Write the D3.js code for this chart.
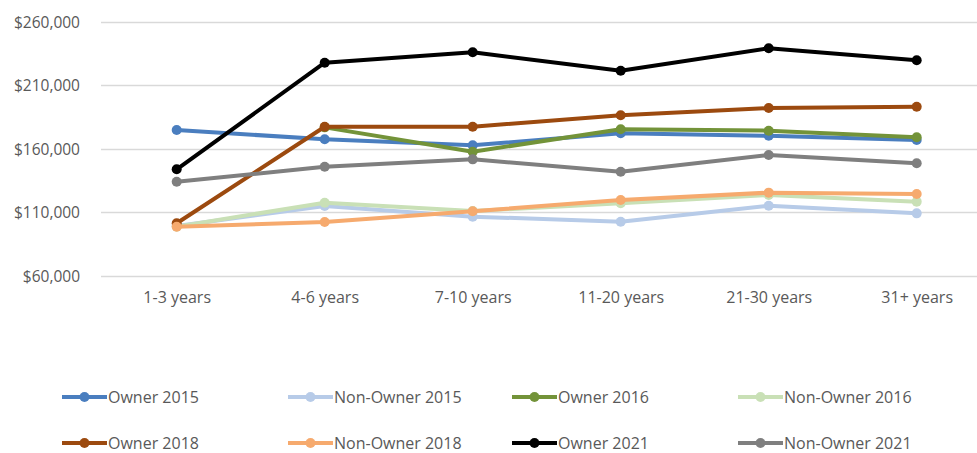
<!DOCTYPE html>
<html lang="en">
<head>
    <meta charset="UTF-8">
    <title>Salary by years of experience</title>
    <script src="https://cdn.jsdelivr.net/npm/d3@7"></script>
    <style>
        body { margin: 0; background: #fff; }
        svg { display: block; font-family: "Open Sans", sans-serif; }
    </style>
</head>
<body>
<div id="chart-space"></div>
<script>
    // categories and tick values
    var categories = ["1-3 years", "4-6 years", "7-10 years", "11-20 years", "21-30 years", "31+ years"];
    var yTicks = [60000, 110000, 160000, 210000, 260000];

    // series values (null = no point)
    var owner2015 = [174700, 167400, 162700, 172100, 170200, 166800];
    var nonOwner2015 = [99100, 114900, 106500, 102500, 115100, 109100];
    var owner2016 = [null, 176800, 157600, 175300, 174200, 169000];
    var nonOwner2016 = [98600, 117500, 110900, 117000, 123500, 118300];
    var owner2018 = [101300, 177300, 177300, 186300, 192000, 193100];
    var nonOwner2018 = [98600, 102300, 110700, 119600, 125400, 124300];
    var owner2021 = [143800, 227700, 235900, 221400, 239100, 229600];
    var nonOwner2021 = [134000, 145800, 151600, 141900, 155000, 148500];

    var seriesNames = ["Owner 2015", "Non-Owner 2015", "Owner 2016", "Non-Owner 2016",
                       "Owner 2018", "Non-Owner 2018", "Owner 2021", "Non-Owner 2021"];
    var seriesValues = [owner2015, nonOwner2015, owner2016, nonOwner2016,
                        owner2018, nonOwner2018, owner2021, nonOwner2021];
    var seriesColors = ["#4a7ebf", "#b7cbe8", "#739339", "#c9e0b6",
                        "#9c4a0f", "#f6aa6e", "#000000", "#7f7f7f"];

    var width = 977;
    var height = 453;

    var svg = d3.select("#chart-space")
                .append("svg")
                .attr("width", width)
                .attr("height", height);

    var xScale = d3.scalePoint()
                   .domain(categories)
                   .range([102.7, 990.7])
                   .padding(0.5);

    var yScale = d3.scaleLinear()
                   .domain([60000, 260000])
                   .range([275.7, 21.7]);

    // gridlines
    svg.append("g")
       .selectAll("line")
       .data(yTicks)
       .join("line")
       .attr("x1", 101)
       .attr("x2", width)
       .attr("y1", function(d){ return Math.round(yScale(d)) + 0.5; })
       .attr("y2", function(d){ return Math.round(yScale(d)) + 0.5; })
       .attr("stroke", "#d9d9d9")
       .attr("stroke-width", 1.5);

    // y axis labels
    var yAxis = d3.axisLeft(yScale)
                  .tickValues(yTicks)
                  .tickSize(0)
                  .tickPadding(0)
                  .tickFormat(function(d){ return "$" + d3.format(",")(d); });

    svg.append("g")
       .attr("transform", "translate(80,0)")
       .call(yAxis)
       .call(function(g){ g.select(".domain").remove(); })
       .selectAll("text")
       .attr("fill", "#595959")
       .attr("font-family", "Open Sans, sans-serif")
       .attr("font-size", 15.5)
       .attr("dy", "0.35em");

    // x axis labels
    var xAxis = d3.axisBottom(xScale).tickSize(0).tickPadding(0);

    svg.append("g")
       .attr("transform", "translate(0,297)")
       .call(xAxis)
       .call(function(g){ g.select(".domain").remove(); })
       .selectAll("text")
       .attr("fill", "#595959")
       .attr("font-family", "Open Sans, sans-serif")
       .attr("font-size", 16)
       .attr("dy", "0.35em");

    // lines and markers
    var line = d3.line()
                 .defined(function(d){ return d.v !== null; })
                 .x(function(d){ return xScale(d.c); })
                 .y(function(d){ return yScale(d.v); });

    var series = seriesNames.map(function(name, i){
        return {
            name: name,
            color: seriesColors[i],
            points: categories.map(function(c, j){ return {c: c, v: seriesValues[i][j]}; })
        };
    });

    var groups = svg.append("g")
                    .selectAll("g")
                    .data(series)
                    .join("g");

    groups.append("path")
          .attr("d", function(d){ return line(d.points); })
          .attr("fill", "none")
          .attr("stroke", function(d){ return d.color; })
          .attr("stroke-width", 4)
          .attr("stroke-linejoin", "round")
          .attr("stroke-linecap", "round");

    groups.selectAll("circle")
          .data(function(d){ return d.points.filter(function(p){ return p.v !== null; })
                                   .map(function(p){ return {c: p.c, v: p.v, color: d.color}; }); })
          .join("circle")
          .attr("cx", function(d){ return xScale(d.c); })
          .attr("cy", function(d){ return yScale(d.v); })
          .attr("r", 5)
          .attr("fill", function(d){ return d.color; });

    // legend
    var legendX = [62, 288, 512, 738];
    var legendY = [397, 443];

    var legend = svg.append("g")
                    .selectAll("g")
                    .data(series)
                    .join("g")
                    .attr("transform", function(d, i){
                        return "translate(" + legendX[i % 4] + "," + legendY[Math.floor(i / 4)] + ")";
                    });

    legend.append("line")
          .attr("x1", 0).attr("x2", 45)
          .attr("stroke", function(d){ return d.color; })
          .attr("stroke-width", 4);

    legend.append("circle")
          .attr("cx", 22.5)
          .attr("r", 5)
          .attr("fill", function(d){ return d.color; });

    legend.append("text")
          .attr("x", 46)
          .attr("dy", "0.35em")
          .attr("fill", "#595959")
          .attr("font-size", 16)
          .text(function(d){ return d.name; });
</script>
</body>
</html>
